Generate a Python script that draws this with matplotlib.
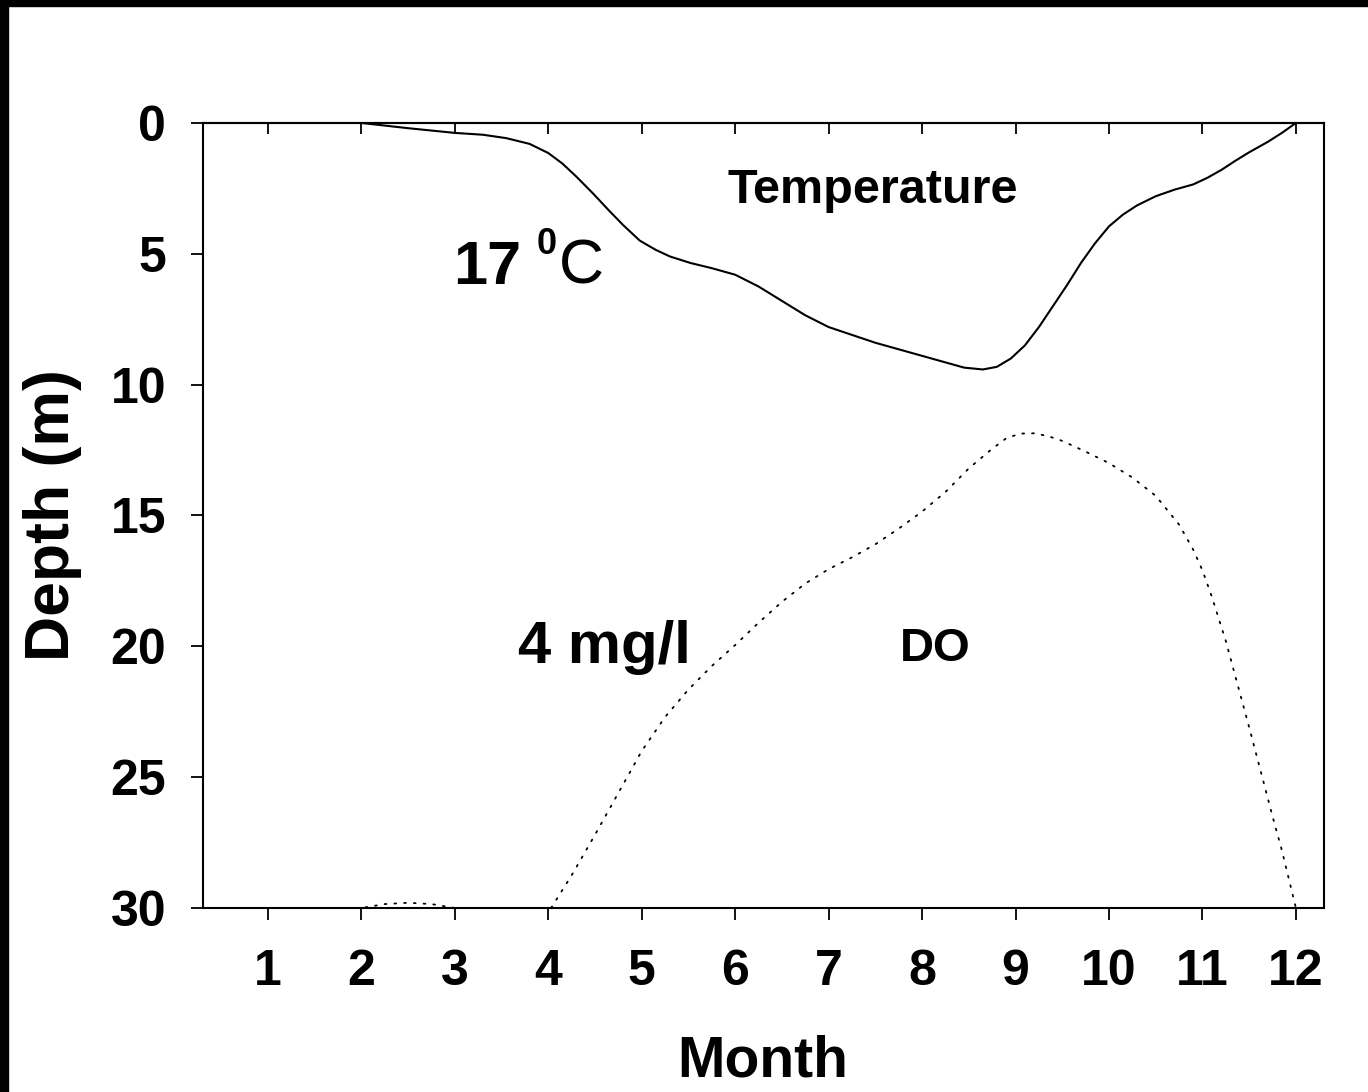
import matplotlib.pyplot as plt
import matplotlib.patches as patches
import numpy as np

plt.rcParams['font.family'] = ['Liberation Sans', 'DejaVu Sans']

# depth (m) of the 17 degC isotherm by month
temp_month = [2.0, 2.5, 3.0, 3.3, 3.55, 3.8, 4.0, 4.15, 4.3, 4.48, 4.65, 4.8,
              4.98, 5.15, 5.3, 5.52, 5.75, 6.0, 6.25, 6.5, 6.75, 7.0, 7.25,
              7.5, 7.75, 8.0, 8.25, 8.45, 8.65, 8.8, 8.95, 9.1, 9.25, 9.4,
              9.55, 9.7, 9.85, 10.0, 10.15, 10.3, 10.5, 10.7, 10.9, 11.05,
              11.2, 11.35, 11.5, 11.7, 11.85, 12.0]
temp_depth = [0.0, 0.2, 0.38, 0.45, 0.58, 0.8, 1.15, 1.55, 2.05, 2.7, 3.35, 3.9,
              4.5, 4.85, 5.1, 5.35, 5.55, 5.8, 6.25, 6.8, 7.35, 7.8, 8.1,
              8.4, 8.65, 8.9, 9.15, 9.35, 9.42, 9.32, 9.0, 8.5, 7.8, 7.0,
              6.2, 5.35, 4.6, 3.95, 3.5, 3.15, 2.8, 2.55, 2.35, 2.1,
              1.8, 1.45, 1.12, 0.72, 0.38, 0.0]

# depth (m) of the 4 mg/l dissolved oxygen isopleth (nan = below 30 m)
do_month = [1.0, 1.5, 2.0, 2.25, 2.5, 2.75, 3.0, 3.5, 4.03, 4.25, 4.5, 4.75,
            5.0, 5.25, 5.5, 5.75, 6.0, 6.25, 6.5, 6.75, 7.0, 7.25, 7.5, 7.75,
            8.0, 8.25, 8.5, 8.75, 8.9, 9.05, 9.2, 9.35, 9.5, 9.75, 10.0,
            10.25, 10.5, 10.75, 10.9, 11.0, 11.1, 11.25, 11.5, 11.75, 11.85,
            12.0]
do_depth = [30.0, 30.0, 30.0, 29.85, 29.8, 29.85, 30.0, np.nan, 30.0, 28.75, 27.2, 25.6,
            24.0, 22.7, 21.65, 20.75, 19.95, 19.1, 18.3, 17.6, 17.05, 16.6, 16.1, 15.5,
            14.85, 14.1, 13.2, 12.45, 12.05, 11.87, 11.86, 11.97, 12.15, 12.56, 13.0,
            13.55, 14.25, 15.35, 16.3, 17.1, 18.1, 19.8, 23.1, 26.5, 27.8,
            30.0]

months = list(range(1, 13))
depth_ticks = [0, 5, 10, 15, 20, 25, 30]

fig = plt.figure(figsize=(13.68, 10.92), dpi=100)
ax = fig.add_axes([0.1484, 0.1685, 0.8194, 0.7189])

ax.plot(temp_month, temp_depth, color='black', linewidth=1.5,
        solid_joinstyle='round')
ax.plot(do_month, do_depth, color='black', linewidth=1.3,
        linestyle=(0, (1, 4.4)), dash_capstyle='round')

ax.set_xlim(0.305, 12.3)
ax.set_ylim(30, 0)
ax.set_xticks(months)
ax.set_yticks(depth_ticks)

for side in ['left', 'right', 'top', 'bottom']:
    ax.spines[side].set_linewidth(1.5)

ax.tick_params(axis='x', direction='out', length=8.5, width=1.3, pad=21,
               labelsize=36)
ax.tick_params(axis='y', direction='out', length=8.5, width=1.3, pad=18,
               labelsize=36)
for lab in ax.get_xticklabels() + ax.get_yticklabels():
    lab.set_fontweight('bold')

top = ax.secondary_xaxis('top')
top.set_xticks(months)
top.set_xticklabels([])
top.tick_params(direction='in', length=8, width=1.3)
top.spines['top'].set_linewidth(1.5)

ax.set_xlabel('Month', fontsize=41, fontweight='bold', va='center')
ax.xaxis.set_label_coords(0.4996, -0.196)
ax.set_ylabel('Depth (m)', fontsize=45, fontweight='bold', va='center')
ax.yaxis.set_label_coords(-0.1347, 0.5006)

ax.text(7.47, 2.6, 'Temperature', fontsize=35, fontweight='bold',
        ha='center', va='center')
ax.text(4.6, 20.06, '4 mg/l', fontsize=43, fontweight='bold',
        ha='center', va='center')
ax.text(8.14, 20.1, 'DO', fontsize=34, fontweight='bold',
        ha='center', va='center')
ax.text(2.98, 6.15, '17', fontsize=44, fontweight='bold', ha='left', va='baseline')
ax.text(3.87, 5.0, '0', fontsize=26, fontweight='bold', ha='left', va='baseline')
ax.text(4.11, 6.15, 'C', fontsize=45, ha='left', va='baseline')

# black frame along the top and left edges
fig.patches.append(patches.Rectangle((0, 1 - 6 / 1092), 1, 6 / 1092,
                                     transform=fig.transFigure, color='black'))
fig.patches.append(patches.Rectangle((0, 0), 8 / 1368, 1,
                                     transform=fig.transFigure, color='black'))

fig.savefig('out.png', dpi=100)
